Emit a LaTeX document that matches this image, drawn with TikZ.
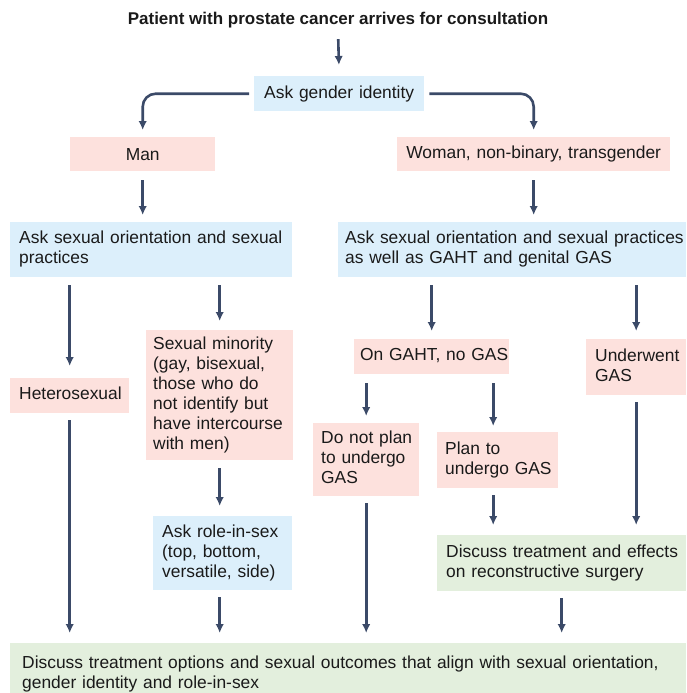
\documentclass[tikz,border=0pt]{standalone}
\usepackage{fontspec}
\setmainfont{Liberation Sans}
\usetikzlibrary{arrows.meta}
\definecolor{askblue}{HTML}{DCEFFB}
\definecolor{statepink}{HTML}{FDE1DD}
\definecolor{actgreen}{HTML}{E3EFDD}
\definecolor{arrowink}{HTML}{3B4A68}
\definecolor{textink}{HTML}{1A1A1A}
% fixed line breaks, never re-wrapped by the box width
\newcommand\boxlines[1]{\begin{tabular}{@{}l@{}}#1\end{tabular}}
\tikzset{
  box/.style={anchor=north west, inner xsep=9pt, inner ysep=4pt, align=left,
    text=textink, font=\fontsize{17.4}{20}\selectfont},
  blue/.style={box, fill=askblue},
  pink/.style={box, fill=statepink},
  green/.style={box, fill=actgreen},
  flow/.style={draw=arrowink, line width=2.6pt,
    -{Latex[length=9pt,width=8.5pt]}, shorten <=7pt, shorten >=10pt},
}
\begin{document}
\begin{tikzpicture}[x=1pt, y=-1pt]
\useasboundingbox (0,0) rectangle (686,693);

% heading
\node[font=\bfseries\fontsize{17}{20}\selectfont, text=textink, inner sep=2pt] (title) at (338,20)
  {Patient with prostate cancer arrives for consultation};

% gender identity level
\node[blue, align=center, text width=152pt, minimum height=35pt] (gender) at (254,76) {Ask gender identity};
\node[pink, align=center, text width=127pt, minimum height=34pt] (man) at (70,137) {Man};
\node[pink, align=center, inner xsep=4pt, text width=265pt, minimum height=34pt] (woman) at (397,137) {Woman, non-binary, transgender};

% orientation questions
\node[blue, text width=264pt, minimum height=55pt] (askL) at (10,222)
  {\boxlines{Ask sexual orientation and sexual\\practices}};
\node[blue, inner xsep=7pt, text width=334pt, minimum height=55pt] (askR) at (338,222)
  {\boxlines{Ask sexual orientation and sexual practices\\as well as GAHT and genital GAS}};

% left branch
\node[pink, text width=101pt, minimum height=35pt] (het) at (10,378) {\boxlines{Heterosexual}};
\node[pink, inner xsep=7pt, text width=133pt, minimum height=130pt] (minor) at (146,330)
  {\boxlines{Sexual minority\\(gay, bisexual,\\those who do\\not identify but\\have intercourse\\with men)}};
\node[blue, text width=121pt, minimum height=74pt] (role) at (153,516)
  {\boxlines{Ask role-in-sex\\(top, bottom,\\versatile, side)}};

% right branch
\node[pink, inner xsep=6pt, text width=143pt, minimum height=35pt] (ongaht) at (354,339) {\boxlines{On GAHT, no GAS}};
\node[pink, text width=82pt, minimum height=56pt] (underwent) at (586,339) {\boxlines{Underwent\\GAS}};
\node[pink, inner xsep=8pt, text width=90pt, minimum height=73pt] (donot) at (313,423)
  {\boxlines{Do not plan\\to undergo\\GAS}};
\node[pink, inner xsep=8pt, text width=105pt, minimum height=56pt] (plan) at (437,432)
  {\boxlines{Plan to\\undergo GAS}};
\node[green, text width=231pt, minimum height=56pt] (discgas) at (437,535)
  {\boxlines{Discuss treatment and effects\\on reconstructive surgery}};

% common outcome (runs past the lower edge)
\node[green, inner xsep=12pt, text width=652pt, minimum height=62pt] (final) at (10,643)
  {\boxlines{Discuss treatment options and sexual outcomes that align with sexual orientation,\\gender identity and role-in-sex}};

% connectors
\draw[flow, shorten <=9pt, shorten >=11pt] (title.south) -- (gender.north);
\draw[flow, rounded corners=13pt, shorten <=5pt, shorten >=7pt] (gender.west) -| (man.north);
\draw[flow, rounded corners=13pt, shorten <=5pt, shorten >=7pt] (gender.east) -| (woman.north);
\draw[flow, shorten <=9pt, shorten >=7pt] (man.south) -- (askL.north -| man.south);
\draw[flow, shorten <=9pt, shorten >=7pt] (woman.south) -- (askR.north -| woman.south);

\draw[flow, shorten <=8pt, shorten >=12pt] (askL.south -| het.north) -- (het.north);
\draw[flow, shorten <=8pt, shorten >=9pt] (askL.south -| minor.north) -- (minor.north);
\draw[flow, shorten <=8pt, shorten >=8pt] (askR.south -| ongaht.north) -- (ongaht.north);
\draw[flow, shorten <=8pt, shorten >=8pt] (askR.south -| underwent.north) -- (underwent.north);

\draw[flow, shorten <=9pt, shorten >=7pt] (ongaht.south -| donot.north) -- (donot.north);
\draw[flow, shorten <=9pt, shorten >=6pt] ([xshift=-4.5pt]ongaht.south -| plan.north) -- ([xshift=-4.5pt]plan.north);
\draw[flow, shorten <=8pt, shorten >=10pt] (minor.south) -- (role.north -| minor.south);
\draw[flow] (underwent.south) -- (discgas.north -| underwent.south);
\draw[flow] ([xshift=-4.5pt]plan.south) -- ([xshift=-4.5pt]discgas.north -| plan.south);

\draw[flow] (het.south) -- (final.north -| het.south);
\draw[flow] (role.south -| minor.south) -- (final.north -| minor.south);
\draw[flow] (donot.south) -- (final.north -| donot.south);
\draw[flow] (discgas.south) -- (final.north -| discgas.south);
\end{tikzpicture}
\end{document}
